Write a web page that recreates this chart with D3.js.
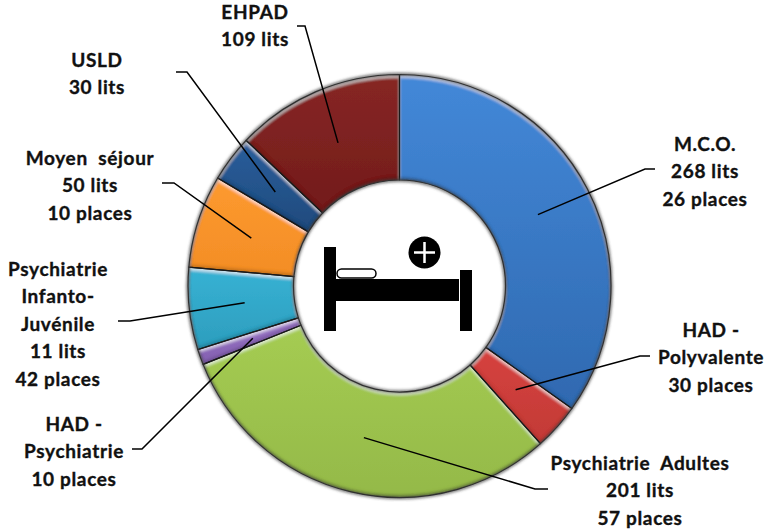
<!DOCTYPE html>
<html><head><meta charset="utf-8">
<script src="https://cdn.jsdelivr.net/npm/d3@7/dist/d3.min.js"></script>
<style>html,body{margin:0;background:#fff}svg{display:block}text{font-family:Lato,"Open Sans",sans-serif;font-weight:700;font-size:19px;letter-spacing:.65px;fill:#111;stroke:#111;stroke-width:.35px}</style>
</head><body><svg id="c" width="768" height="531"></svg>
<script>
const categories=["M.C.O.","HAD - Polyvalente","Psychiatrie Adultes","HAD - Psychiatrie","Psychiatrie Infanto-Juvénile","Moyen séjour","USLD","EHPAD"];
const values=[294,30,258,10,53,60,30,109];
const colorsTop=["#4388d8","#d6423f","#a5cc52","#9a74c6","#37b2d4","#fd9a2f","#2a5e9c","#872624"];
const colorsBottom=["#2f69b0","#c23a36","#94b949","#8360b0","#2d9dbd","#f38d26","#1f4a7c","#721c1b"];
const labelLines=[["M.C.O.","268 lits","26 places"],["HAD -","Polyvalente","30 places"],["Psychiatrie  Adultes","201 lits","57 places"],["HAD -","Psychiatrie","10 places"],["Psychiatrie","Infanto-","Juvénile","11 lits","42 places"],["Moyen  séjour","50 lits","10 places"],["USLD","30 lits"],["EHPAD","109 lits"]];
const labelX=[705,711,640,74,58,90,97,255];
const labelY=[151,337,470,431,276,165,67,19];
const elbows=[[645,169,655,169],[640,356,650,356],[535,489,548,489],[142,449,132,449],[130,321,118,321],[174,183,162,183],[187,72,176,72],[305,26,297,26]];
const lineH=27.4;

const cx=399.5,cy=286,R=211.5,r=106;
const svg=d3.select("#c"),defs=svg.append("defs");
const f=defs.append("filter").attr("id","bevel").attr("x","-10%").attr("y","-10%").attr("width","120%").attr("height","120%");
f.append("feGaussianBlur").attr("in","SourceAlpha").attr("stdDeviation",1.6).attr("result","b");
f.append("feOffset").attr("in","b").attr("dx",0).attr("dy",3).attr("result","down");
f.append("feComposite").attr("in","SourceAlpha").attr("in2","down").attr("operator","out").attr("result","topEdge");
f.append("feFlood").attr("flood-color","#fff").attr("flood-opacity",.6).attr("result","w");
f.append("feComposite").attr("in","w").attr("in2","topEdge").attr("operator","in").attr("result","hi");
f.append("feOffset").attr("in","b").attr("dx",0).attr("dy",-3).attr("result","up");
f.append("feComposite").attr("in","SourceAlpha").attr("in2","up").attr("operator","out").attr("result","botEdge");
f.append("feFlood").attr("flood-color","#000").attr("flood-opacity",.35).attr("result","k");
f.append("feComposite").attr("in","k").attr("in2","botEdge").attr("operator","in").attr("result","lo");
f.append("feMerge").selectAll("feMergeNode").data(["SourceGraphic","hi","lo"]).join("feMergeNode").attr("in",d=>d);
const sh=defs.append("filter").attr("id","soft").attr("x","-10%").attr("y","-10%").attr("width","120%").attr("height","120%");
sh.append("feGaussianBlur").attr("stdDeviation",1.5);
colorsTop.forEach((c,i)=>{const g=defs.append("linearGradient").attr("id","g"+i).attr("x1",0).attr("y1",0).attr("x2",0).attr("y2",1);
 g.append("stop").attr("offset",0).attr("stop-color",c);g.append("stop").attr("offset",1).attr("stop-color",colorsBottom[i]);});

const pie=d3.pie().sort(null).value(d=>d)(values);
const arc=d3.arc().innerRadius(r).outerRadius(R);
const leaderArc=d3.arc().innerRadius(r-3).outerRadius(R-3);
const g=svg.append("g").attr("transform",`translate(${cx},${cy})`);
g.selectAll("path.s").data(pie).join("path").attr("class","s").attr("d",arc)
 .attr("fill",(d,i)=>`url(#g${i})`).attr("filter","url(#bevel)");
g.selectAll("path.o").data(pie).join("path").attr("class","o").attr("d",arc)
 .attr("fill","none").attr("stroke","#1a1a1a").attr("stroke-width",1.2);
g.append("circle").attr("r",R+.3).attr("fill","none").attr("stroke","#444").attr("stroke-width",2.2).attr("filter","url(#soft)");
g.append("circle").attr("r",r-.3).attr("fill","none").attr("stroke","#444").attr("stroke-width",2.2).attr("filter","url(#soft)");

// leader lines start near each slice's centroid
svg.append("g").selectAll("polyline").data(pie).join("polyline")
 .attr("fill","none").attr("stroke","#000").attr("stroke-width",1.5)
 .attr("points",(d,i)=>{const c=leaderArc.centroid(d),e=elbows[i];return [[c[0]+cx,c[1]+cy],[e[0],e[1]],[e[2],e[3]]].join(" ");});

// labels
svg.append("g").selectAll("text").data(labelLines).join("text")
 .attr("text-anchor","middle")
 .each(function(d,i){d3.select(this).selectAll("tspan").data(d).join("tspan")
   .attr("x",labelX[i]).attr("y",(t,j)=>labelY[i]+j*lineH).attr("xml:space","preserve").text(t=>t);});

// bed pictogram
const bed=svg.append("g");
bed.append("rect").attr("x",324).attr("y",247).attr("width",12).attr("height",84);
bed.append("rect").attr("x",460).attr("y",270).attr("width",12).attr("height",61);
bed.append("rect").attr("x",336).attr("y",279).attr("width",123).attr("height",22);
bed.append("rect").attr("x",337).attr("y",269).attr("width",39).attr("height",9).attr("rx",4.5).attr("fill","#fff").attr("stroke","#000").attr("stroke-width",1.5);
bed.append("circle").attr("cx",424.5).attr("cy",252.5).attr("r",16);
bed.append("path").attr("d","M414 252.5H435M424.5 242V263").attr("stroke","#fff").attr("stroke-width",2.5).attr("fill","none");
</script></body></html>
